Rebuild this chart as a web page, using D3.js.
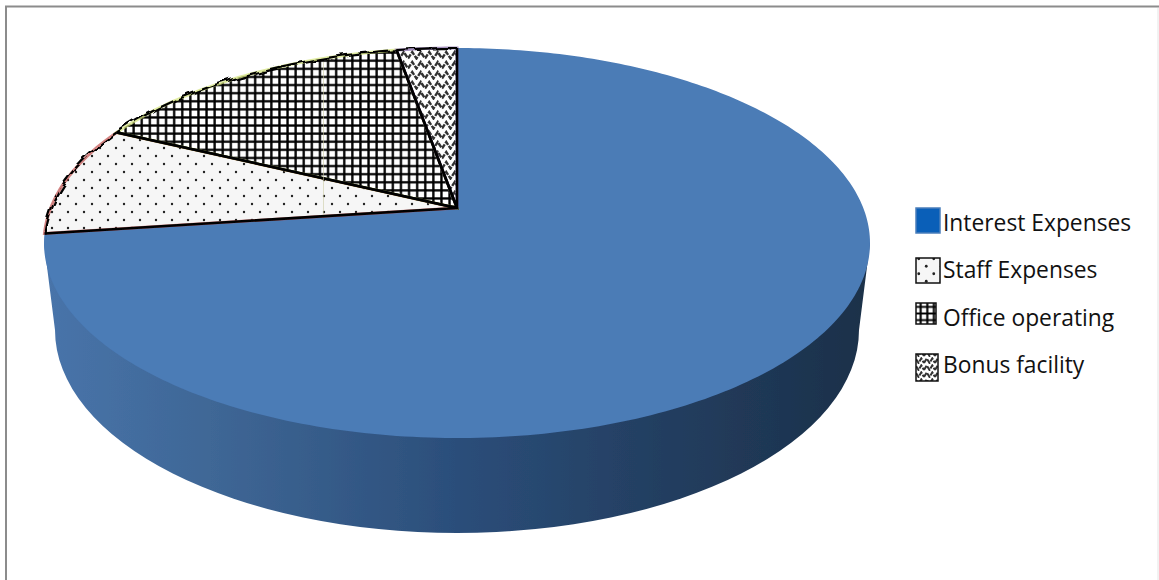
<!DOCTYPE html>
<html><head><meta charset="utf-8">
<script src="https://cdn.jsdelivr.net/npm/d3@7/dist/d3.min.js"></script>
<style>html,body{margin:0;padding:0;background:#fff;overflow:hidden}svg{display:block}</style>
</head><body><svg id="c" width="1159" height="580"></svg>
<script>
const categories = ["Interest Expenses","Staff Expenses","Office operating","Bonus facility"];
const values = [72.9, 9.2, 15.1, 2.8];

const svg = d3.select("#c");
const defs = svg.append("defs");

// Patterns
function grid(id,s,w){
  const p=defs.append("pattern").attr("id",id).attr("patternUnits","userSpaceOnUse").attr("width",s).attr("height",s);
  p.append("rect").attr("width",s).attr("height",s).attr("fill","#fff");
  p.append("path").attr("d",`M${s/2} 0V${s}M0 ${s/2}H${s}`).attr("stroke","#000").attr("stroke-width",w);
}
grid("pGrid",8.1,2.3); grid("pGridL",6.6,2.1);
function dots(id,sx,sy,r){
  const p=defs.append("pattern").attr("id",id).attr("patternUnits","userSpaceOnUse").attr("width",sx).attr("height",sy);
  p.append("rect").attr("width",sx).attr("height",sy).attr("fill","#f6f6f6");
  [[sx/4,sy/4],[3*sx/4,3*sy/4]].forEach(d=>p.append("circle").attr("cx",d[0]).attr("cy",d[1]).attr("r",r).attr("fill","#222"));
}
dots("pDots",16,16,1.2); dots("pDotsL",15,15,1.4);
function wave(id,w,h,sw){
  const p=defs.append("pattern").attr("id",id).attr("patternUnits","userSpaceOnUse").attr("width",w).attr("height",h);
  p.append("rect").attr("width",w).attr("height",h).attr("fill","#fff");
  p.append("path").attr("d",`M0 ${h*.85}L${w/4} ${h*.2}L${w/2} ${h*.85}L${3*w/4} ${h*.2}L${w} ${h*.85}`)
    .attr("fill","none").attr("stroke","#333").attr("stroke-width",sw).attr("stroke-dasharray","5 1.2");
}
wave("pWave",17,10,2.4); wave("pWaveL",11,7,2);

const grad=defs.append("linearGradient").attr("id","side").attr("gradientUnits","userSpaceOnUse")
  .attr("x1",44).attr("x2",870).attr("y1",0).attr("y2",0);
[[0,"#4874aa"],[.2,"#3f6796"],[.5,"#2b4e7a"],[.75,"#233e60"],[1,"#1b3049"]]
  .forEach(s=>grad.append("stop").attr("offset",s[0]).attr("stop-color",s[1]));

const rough=defs.append("filter").attr("id","rough").attr("x","-5%").attr("y","-5%").attr("width","110%").attr("height","110%");
rough.append("feTurbulence").attr("type","fractalNoise").attr("baseFrequency",0.06).attr("numOctaves",2).attr("seed",4).attr("result","n");
rough.append("feDisplacementMap").attr("in","SourceGraphic").attr("in2","n").attr("scale",9);
defs.append("filter").attr("id","soft").append("feGaussianBlur").attr("stdDeviation",0.5);

// Frame
svg.append("path").attr("d","M6 580V6.5H1159").attr("fill","none").attr("stroke","#8c8c8c").attr("stroke-width",2);
svg.append("path").attr("d","M1158 8V580").attr("fill","none").attr("stroke","#e4e4e4").attr("stroke-width",1);

// Projection of the 3D pie top
const cx=457, cy=243, rx=413, ry=195, k=(208-243)/195;
const proj=(a,r=1)=>{
  const x=r*Math.sin(a), y=-r*Math.cos(a), d=1+k*y;
  return [cx+rx*x*Math.sqrt(1-k*k)/d, cy+ry*(y+k)/d];
};
const pie=d3.pie().sort(null).startAngle(0).endAngle(2*Math.PI);
const arcs=pie(values);
const line=d3.line();
const arcPts=d=>{
  const n=Math.max(8,Math.ceil((d.endAngle-d.startAngle)*60));
  return d3.range(n+1).map(i=>proj(d.startAngle+(d.endAngle-d.startAngle)*i/n));
};
const fills=["#4b7bb6","url(#pDots)","url(#pGrid)","url(#pWave)"];
const rims=[null,"#c0504d","#d3e27a","#8064a2"];

const chart=svg.append("g").attr("filter","url(#soft)");
// Side wall
chart.append("path").attr("fill","url(#side)")
  .attr("d","M44 243L55 330A402 203 0 0 0 859 330L870 243Z");
// Top face
chart.selectAll("path.slice").data(arcs).join("path").attr("class","slice")
  .attr("fill",(d,i)=>fills[i])
  .attr("stroke",(d,i)=>rims[i]||"none").attr("stroke-width",(d,i)=>i?3:0).attr("stroke-opacity",.7)
  .attr("d",d=>line([proj(0,0),...arcPts(d)])+"Z");
// Straight edges
chart.selectAll("path.edge").data(arcs.slice(1)).join("path").attr("class","edge")
  .attr("fill","none").attr("stroke","#000").attr("stroke-width",2.6)
  .attr("d",d=>line([proj(d.endAngle),proj(0,0),proj(d.startAngle)]));
// Rough outer rims
chart.selectAll("path.rim").data(arcs.slice(1)).join("path").attr("class","rim")
  .attr("fill","none").attr("stroke","#000").attr("stroke-width",2.2).attr("filter","url(#rough)")
  .attr("d",d=>line(arcPts(d)));
// Scanner hairline
svg.append("line").attr("x1",323.5).attr("x2",323.5).attr("y1",62).attr("y2",215)
  .attr("stroke","#c9c9a0").attr("stroke-width",.8).attr("stroke-opacity",.7);

// Legend
const yText=d3.scalePoint().domain(categories).range([231,373]);
const swatches=[
  {f:"#0a5fb8",s:"#4a7ebb",sw:1.5,x:916,y:208,w:24,h:25},
  {f:"url(#pDotsL)",s:"#111",sw:1.5,x:916,y:258,w:24,h:25},
  {f:"url(#pGridL)",s:"#111",sw:1.5,x:916,y:303,w:20,h:21},
  {f:"url(#pWaveL)",s:"#111",sw:1.5,x:916,y:354,w:22,h:27}
];
const leg=svg.append("g").selectAll("g").data(categories).join("g");
leg.append("rect").each(function(d,i){
  const s=swatches[i];
  d3.select(this).attr("x",s.x).attr("y",s.y).attr("width",s.w).attr("height",s.h)
    .attr("fill",s.f).attr("stroke",s.s).attr("stroke-width",s.sw);
});
leg.append("text").attr("x",943).attr("y",d=>yText(d))
  .attr("font-family","'Open Sans', sans-serif").attr("font-size",22.8).attr("fill","#111")
  .text(d=>d);
</script></body></html>
